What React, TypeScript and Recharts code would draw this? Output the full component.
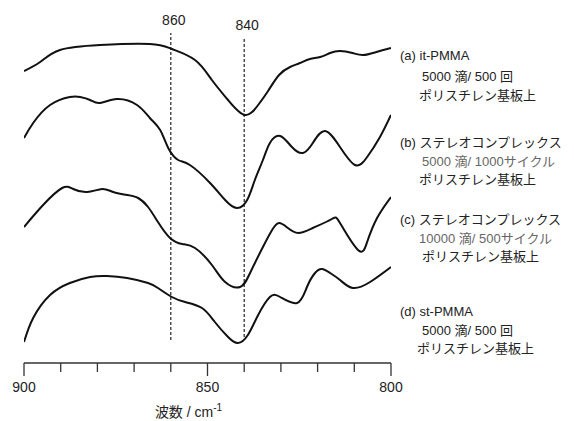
import React from 'react';
import { LineChart, Line, XAxis, YAxis, ReferenceLine } from 'recharts';

// wavenumber (cm-1) and relative intensity (arbitrary units, stacked offsets)
const waveA = [900, 895.6, 890.2, 879.3, 865.7, 859.7, 853.4, 848.8, 844.4, 839.8, 836.2, 833.5, 830.5, 827.5, 824.8, 822.1, 819.3, 816.6, 813.9, 810.5, 807.6, 804.0, 800];
const valA = [292, 301, 313, 318, 319, 314, 303, 283, 263, 248, 258, 272, 288, 296, 300, 304, 306, 310, 312, 310, 308, 311, 315];

const waveB = [900, 897.5, 892.9, 887.5, 884.7, 882.0, 879.3, 874.7, 869.2, 865.7, 862.9, 860.7, 858.0, 854.8, 849.3, 845.2, 842.0, 839.2, 837.1, 834.9, 833.0, 830.2, 827.0, 824.0, 821.3, 818.0, 813.9, 809.8, 806.5, 803.0, 800];
const valB = [225, 240, 258, 266, 266, 263, 260, 264, 258, 245, 233, 215, 203, 198, 180, 163, 155, 163, 183, 203, 220, 227, 216, 210, 220, 232, 216, 198, 206, 226, 248];

const waveC = [900, 894.8, 889.6, 886.6, 882.8, 878.7, 875.7, 871.9, 868.9, 866.2, 863.5, 860.2, 856.9, 853.4, 848.8, 845.2, 841.1, 838.4, 834.9, 832.4, 830.5, 828.1, 825.3, 821.3, 816.1, 813.9, 809.0, 806.5, 803.8, 800];
const valC = [136, 158, 175, 174, 171, 174, 171, 168, 165, 156, 141, 125, 119, 115, 98, 81, 76, 90, 116, 133, 140, 135, 130, 135, 144, 140, 113, 121, 145, 166];

const waveD = [900, 897.5, 892.9, 887.5, 882.0, 877.4, 871.9, 866.2, 863.5, 859.7, 856.1, 851.5, 848.0, 844.4, 841.7, 839.0, 836.2, 833.0, 830.2, 825.6, 822.9, 820.7, 818.8, 816.6, 813.9, 810.4, 805.7, 800];
const valD = [21, 45, 68, 80, 86, 87, 85, 80, 75, 66, 61, 55, 41, 26, 20, 28, 48, 66, 66, 60, 76, 90, 94, 90, 83, 75, 81, 96];

const xTicks = [800, 810, 820, 830, 840, 850, 860, 870, 880, 890, 900];
const majorTicks = [800, 850, 900];
const markers = [860, 840];

const annotations = [
  ['(a) it-PMMA', '5000 滴/ 500 回', 'ポリスチレン基板上'],
  ['(b) ステレオコンプレックス', '5000 滴/ 1000サイクル', 'ポリスチレン基板上'],
  ['(c) ステレオコンプレックス', '10000 滴/ 500サイクル', 'ポリスチレン基板上'],
  ['(d) st-PMMA', '5000 滴/ 500 回', 'ポリスチレン基板上'],
];

const toData = (w: number[], v: number[]) => w.map((x, i) => ({ w: x, v: v[i] }));
const dataA = toData(waveA, valA);
const dataB = toData(waveB, valB);
const dataC = toData(waveC, valC);
const dataD = toData(waveD, valD);

const FONT = '"Liberation Sans", Arial, "Noto Sans CJK JP", sans-serif';

const Tick = (props: any) => {
  const { x, y, payload } = props;
  const major = majorTicks.includes(payload.value);
  return (
    <g>
      <line x1={x} x2={x} y1={y} y2={y + (major ? 13 : 9)} stroke="#333" strokeWidth={1.3} />
      {major && (
        <text x={x} y={y + 29} textAnchor="middle" fontSize={14} fill="#222" fontFamily={FONT}>
          {payload.value}
        </text>
      )}
    </g>
  );
};

const AxisTitle = (props: any) => {
  const vb = props.viewBox || {};
  const cx = (vb.x ?? 24) + (vb.width ?? 367) / 2 - 19;
  const y = (vb.y ?? 363) + 54;
  return (
    <text x={cx} y={y} textAnchor="middle" fontSize={14} fill="#222" fontFamily={FONT}>
      波数 / cm
      <tspan dy={-6} fontSize={10}>-1</tspan>
    </text>
  );
};

const annotationLayout = [
  { y: [55, 76, 95], x: [400, 422, 419] },
  { y: [142, 161, 179], x: [400, 422, 419] },
  { y: [219, 238, 256], x: [400, 419, 422] },
  { y: [311, 330, 348], x: [400, 422, 417] },
];

export default function App() {
  return (
    <div style={{ position: 'absolute', left: 0, top: 0, width: 574, height: 421, background: '#fff' }}>
      <LineChart width={574} height={421} margin={{ top: 30, right: 183, bottom: 18, left: 24 }}>
        <XAxis
          dataKey="w"
          type="number"
          domain={[800, 900]}
          reversed
          ticks={xTicks}
          interval={0}
          tickSize={0}
          tickMargin={0}
          tickLine={false}
          tick={<Tick />}
          height={40}
          axisLine={{ stroke: '#333', strokeWidth: 1.3 }}
          allowDataOverflow
          label={<AxisTitle />}
        />
        <YAxis hide type="number" domain={[0, 333]} allowDataOverflow />
        {markers.map((m) => (
          <ReferenceLine
            key={m}
            segment={[{ x: m, y: m === 860 ? 23 : 26 }, { x: m, y: m === 860 ? 330 : 325 }]}
            stroke="#222"
            strokeWidth={1.2}
            strokeDasharray="3 2"
            label={{ value: String(m), position: 'top', fontSize: 14, fill: '#222', fontFamily: FONT, offset: 8, dx: 3 }}
          />
        ))}
        <Line data={dataA} dataKey="v" type="natural" stroke="#111" strokeWidth={2} dot={false} isAnimationActive={false} />
        <Line data={dataB} dataKey="v" type="natural" stroke="#111" strokeWidth={2} dot={false} isAnimationActive={false} />
        <Line data={dataC} dataKey="v" type="natural" stroke="#111" strokeWidth={2} dot={false} isAnimationActive={false} />
        <Line data={dataD} dataKey="v" type="natural" stroke="#111" strokeWidth={2} dot={false} isAnimationActive={false} />
      </LineChart>
      <svg width={574} height={421} style={{ position: 'absolute', left: 0, top: 0, pointerEvents: 'none' }}>
        {annotations.map((lines, i) =>
          lines.map((t, j) => (
            <text
              key={`${i}-${j}`}
              x={annotationLayout[i].x[j]}
              y={annotationLayout[i].y[j]}
              dominantBaseline="central"
              fontSize={13}
              fontFamily={FONT}
              fill={j === 1 && (i === 1 || i === 2) ? '#666' : '#222'}
            >
              {t}
            </text>
          ))
        )}
      </svg>
    </div>
  );
}
